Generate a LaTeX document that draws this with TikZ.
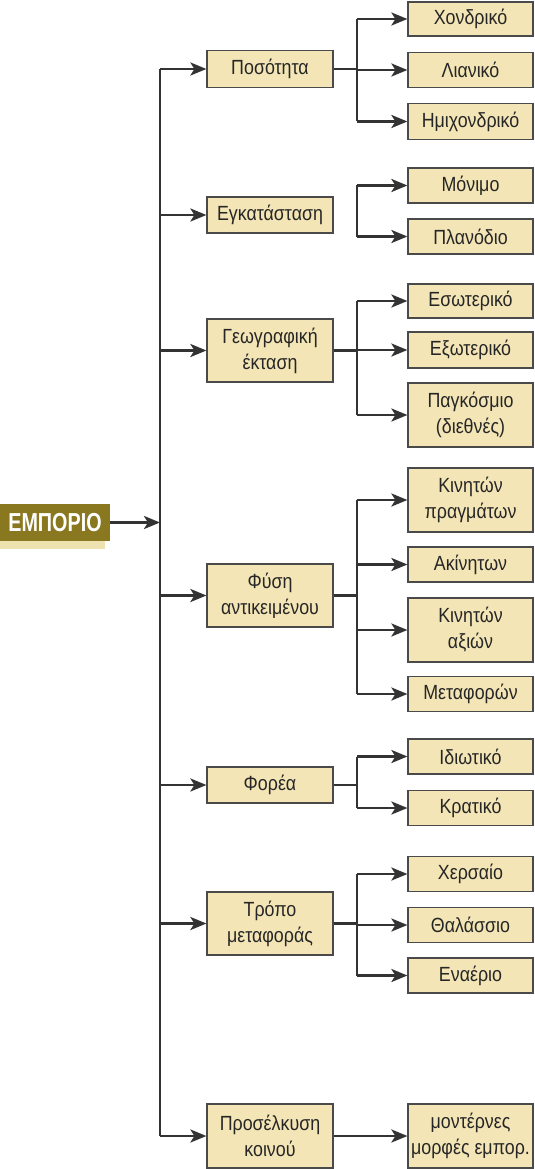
\documentclass[tikz,border=0pt]{standalone}
\usepackage{fontspec}
\setmainfont{Liberation Sans}
\newfontfamily\condbold[FakeStretch=0.76]{Liberation Sans Bold}
\newfontfamily\cond[FakeStretch=0.87]{Liberation Sans}
\usetikzlibrary{arrows.meta}
\definecolor{boxfill}{HTML}{F3E5B5}
\definecolor{boxline}{HTML}{4A4A4A}
\definecolor{linec}{HTML}{333333}
\definecolor{olive}{HTML}{8A7820}
\definecolor{shadowc}{HTML}{EEE2B0}
\definecolor{txt}{HTML}{262626}
\begin{document}
\begin{tikzpicture}[x=1pt,y=-1pt,
  box/.style={draw=boxline,line width=1.2pt,fill=boxfill,text=txt,
    font=\cond\fontsize{20.5}{26}\selectfont,align=center,inner sep=0pt,
    minimum height=#1},
  mid/.style={box=#1,minimum width=126pt},
  leaf/.style={box=#1,minimum width=125pt},
  conn/.style={draw=linec,line width=2.7pt},
  arr/.style={conn,-{Stealth[length=16pt,width=13pt,inset=4pt]}},
]
\useasboundingbox (0,0) rectangle (535,1169);
\coordinate (T) at (160,0);
\coordinate (B) at (357,0);

% root
\fill[shadowc] (0,540) rectangle (105,549);
\node[fill=olive,text=white,minimum width=110pt,minimum height=37pt,inner sep=0pt,
  font=\condbold\fontsize{26}{26}\selectfont] (E) at (55,522.5) {ΕΜΠΟΡΙΟ};

% middle level
\node[mid=37pt] (m1) at (270,69) {Ποσότητα};
\node[mid=36pt] (m2) at (270,215) {Εγκατάσταση};
\node[mid=63pt] (m3) at (270,350.5) {Γεωγραφική\\έκταση};
\node[mid=63pt] (m4) at (270,595.5) {Φύση\\αντικειμένου};
\node[mid=36pt] (m5) at (270,785) {Φορέα};
\node[mid=63pt] (m6) at (270,923.5) {Τρόπο\\μεταφοράς};
\node[mid=64pt] (m7) at (270,1136) {Προσέλκυση\\κοινού};

% leaves
\node[leaf=34pt] (a1) at (470.5,19) {Χονδρικό};
\node[leaf=35pt] (a2) at (470.5,70) {Λιανικό};
\node[leaf=36pt] (a3) at (470.5,121.5) {Ημιχονδρικό};
\node[leaf=35pt] (b1) at (470.5,185.5) {Μόνιμο};
\node[leaf=35pt] (b2) at (470.5,236.5) {Πλανόδιο};
\node[leaf=34pt] (c1) at (470.5,301) {Εσωτερικό};
\node[leaf=36pt] (c2) at (470.5,350) {Εξωτερικό};
\node[leaf=64pt] (c3) at (470.5,415) {Παγκόσμιο\\(διεθνές)};
\node[leaf=64pt] (d1) at (470.5,500) {Κινητών\\πραγμάτων};
\node[leaf=35pt] (d2) at (470.5,564.5) {Ακίνητων};
\node[leaf=64pt] (d3) at (470.5,630) {Κινητών\\αξιών};
\node[leaf=35pt] (d4) at (470.5,694) {Μεταφορών};
\node[leaf=35pt] (e1) at (470.5,756.5) {Ιδιωτικό};
\node[leaf=35pt] (e2) at (470.5,808) {Κρατικό};
\node[leaf=35pt] (f1) at (470.5,874) {Χερσαίο};
\node[leaf=35pt] (f2) at (470.5,925) {Θαλάσσιο};
\node[leaf=35pt] (f3) at (470.5,975.5) {Εναέριο};
\node[leaf=64pt] (g1) at (470.5,1136) {μοντέρνες\\μορφές εμπορ.};

% trunk
\draw[conn] (T |- m1.west) -- (T |- m7.west);
\draw[arr] (E.east) -- (T |- E.east);
\foreach \m in {m1,m2,m3,m4,m5,m6,m7}
  \draw[arr] (T |- \m.west) -- (\m.west);

% branches
\draw[conn] (m1.east) -- (B |- m1.east);
\draw[conn] (B |- a1.west) -- (B |- a3.west);
\foreach \l in {a1,a2,a3} \draw[arr] (B |- \l.west) -- (\l.west);

\draw[conn] (B |- b1.west) -- (B |- b2.west);
\foreach \l in {b1,b2} \draw[arr] (B |- \l.west) -- (\l.west);

\draw[conn] (m3.east) -- (B |- m3.east);
\draw[conn] (B |- c1.west) -- (B |- c3.west);
\foreach \l in {c1,c2,c3} \draw[arr] (B |- \l.west) -- (\l.west);

\draw[conn] (m4.east) -- (B |- m4.east);
\draw[conn] (B |- d1.west) -- (B |- d4.west);
\foreach \l in {d1,d2,d3,d4} \draw[arr] (B |- \l.west) -- (\l.west);

\draw[conn] (m5.east) -- (B |- m5.east);
\draw[conn] (B |- e1.west) -- (B |- e2.west);
\foreach \l in {e1,e2} \draw[arr] (B |- \l.west) -- (\l.west);

\draw[conn] (m6.east) -- (B |- m6.east);
\draw[conn] (B |- f1.west) -- (B |- f3.west);
\foreach \l in {f1,f2,f3} \draw[arr] (B |- \l.west) -- (\l.west);

\draw[arr] (m7.east) -- (g1.west);
\end{tikzpicture}
\end{document}
